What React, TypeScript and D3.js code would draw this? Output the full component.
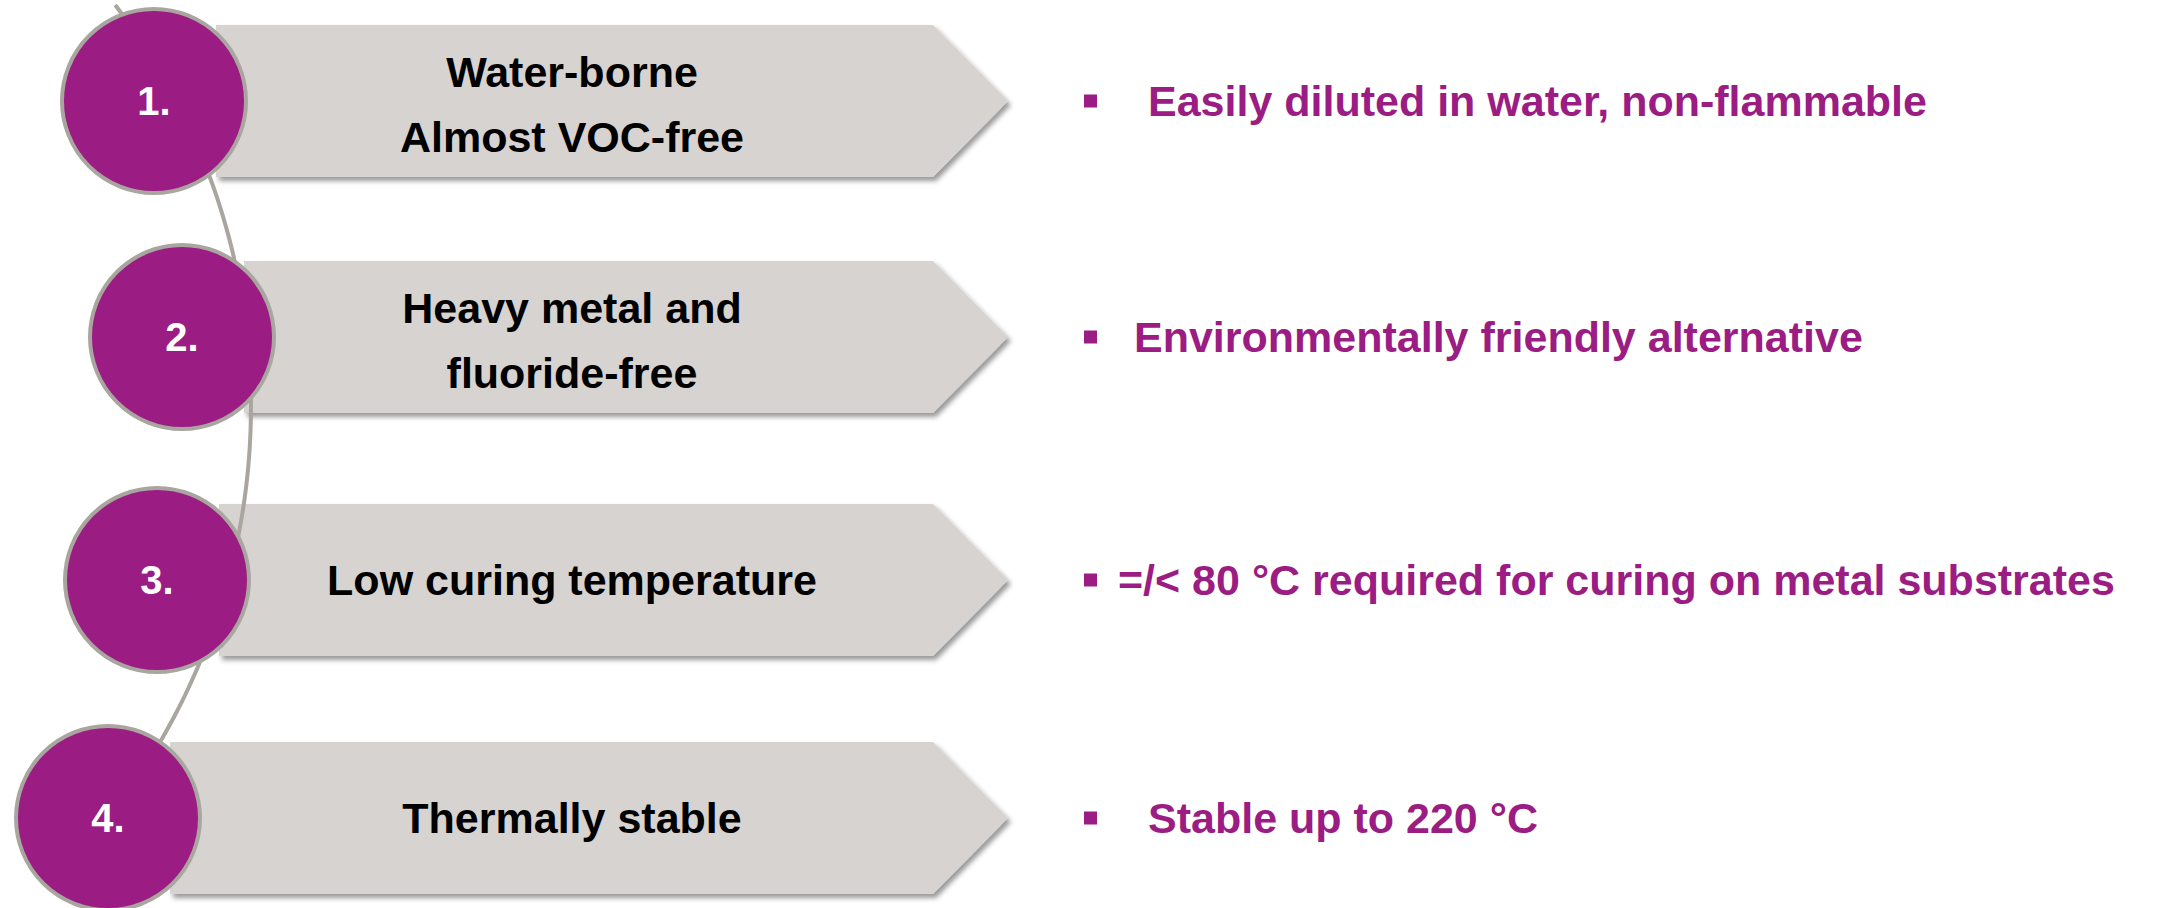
import React, { useEffect, useRef } from 'react';
import * as d3 from 'd3';

// step data
const stepLabels = ['1.', '2.', '3.', '4.'];
const bannerLines = [
    ['Water-borne', 'Almost VOC-free'],
    ['Heavy metal and', 'fluoride-free'],
    ['Low curing temperature'],
    ['Thermally stable'],
];
const bulletTexts = [
    'Easily diluted in water, non-flammable',
    'Environmentally friendly alternative',
    '=/< 80 °C required for curing on metal substrates',
    'Stable up to 220 °C',
];

// layout
const W = 2164, H = 908;
const rowY = [101, 337, 580, 818];
const circleX = [154, 182, 157, 108];
const textX = [1148, 1134, 1118, 1148];
const PURPLE = '#9b1c83';
const GREY = '#d6d3d0';
const RING = '#a9a59f';

const App = () => {
    const ref = useRef<SVGSVGElement>(null);

    useEffect(() => {
        const svg = d3.select(ref.current);
        svg.selectAll('*').remove();

        const y = d3.scaleOrdinal<number, number>().domain([0, 1, 2, 3]).range(rowY);
        const bh = 152, r = 92;
        const font = "'Liberation Sans', Arial, sans-serif";

        const defs = svg.append('defs');
        defs.append('filter').attr('id', 'shadow')
            .attr('x', '-5%').attr('y', '-10%').attr('width', '115%').attr('height', '130%')
            .append('feDropShadow')
            .attr('dx', 3).attr('dy', 4).attr('stdDeviation', 2.5)
            .attr('flood-color', '#000').attr('flood-opacity', 0.4);

        const rows = stepLabels.map((label, i) => ({ label, i }));

        // banners
        svg.selectAll('path.banner')
            .data(rows)
            .enter()
            .append('path')
            .attr('class', 'banner')
            .attr('d', d => {
                const cy = y(d.i), x0 = circleX[d.i] + 62;
                return `M${x0},${cy - bh / 2} L933,${cy - bh / 2} L1008,${cy} L933,${cy + bh / 2} L${x0},${cy + bh / 2} Z`;
            })
            .attr('fill', GREY)
            .attr('filter', 'url(#shadow)');

        // connector arc (one big circle arc, centre off the left side)
        const ac = [-412, 407], R = 663;
        const a0 = Math.asin((5 - ac[1]) / R), a1 = Math.asin((760 - ac[1]) / R);
        const pts = d3.range(0, 61).map(k => {
            const a = a0 + (a1 - a0) * k / 60;
            return [ac[0] + R * Math.cos(a), ac[1] + R * Math.sin(a)] as [number, number];
        });
        svg.append('path')
            .attr('d', d3.line().curve(d3.curveBasis)(pts))
            .attr('fill', 'none')
            .attr('stroke', RING)
            .attr('stroke-width', 4);

        // circles
        svg.selectAll('circle.step')
            .data(rows)
            .enter()
            .append('circle')
            .attr('class', 'step')
            .attr('cx', d => circleX[d.i])
            .attr('cy', d => y(d.i))
            .attr('r', r)
            .attr('fill', PURPLE)
            .attr('stroke', RING)
            .attr('stroke-width', 4);

        svg.selectAll('text.num')
            .data(rows)
            .enter()
            .append('text')
            .attr('class', 'num')
            .attr('x', d => circleX[d.i])
            .attr('y', d => y(d.i))
            .attr('dy', '0.36em')
            .attr('text-anchor', 'middle')
            .attr('font-family', font)
            .attr('font-weight', 'bold')
            .attr('font-size', 40)
            .attr('fill', '#fff')
            .text(d => d.label);

        // banner text
        svg.selectAll('text.title')
            .data(rows)
            .enter()
            .append('text')
            .attr('class', 'title')
            .attr('text-anchor', 'middle')
            .attr('font-family', font)
            .attr('font-weight', 'bold')
            .attr('font-size', 43)
            .attr('fill', '#000')
            .selectAll('tspan')
            .data(d => bannerLines[d.i].map((t, k, arr) => ({ t, k, n: arr.length, i: d.i })))
            .enter()
            .append('tspan')
            .attr('x', 572)
            .attr('y', d => y(d.i) + (d.n > 1 ? 3 : 0) + (d.k - (d.n - 1) / 2) * 65)
            .attr('dy', '0.36em')
            .text(d => d.t);

        // bullets
        svg.selectAll('rect.bullet')
            .data(rows)
            .enter()
            .append('rect')
            .attr('class', 'bullet')
            .attr('x', 1084)
            .attr('y', d => y(d.i) - 6.5)
            .attr('width', 13)
            .attr('height', 13)
            .attr('fill', PURPLE);

        svg.selectAll('text.desc')
            .data(rows)
            .enter()
            .append('text')
            .attr('class', 'desc')
            .attr('x', d => textX[d.i])
            .attr('y', d => y(d.i))
            .attr('dy', '0.36em')
            .attr('font-family', font)
            .attr('font-weight', 'bold')
            .attr('font-size', 43)
            .attr('fill', PURPLE)
            .text(d => bulletTexts[d.i]);
    }, []);

    return (
        <svg ref={ref} width={W} height={H}
            style={{ position: 'absolute', left: 0, top: 0, background: '#fff' }} />
    );
};

export default App;
